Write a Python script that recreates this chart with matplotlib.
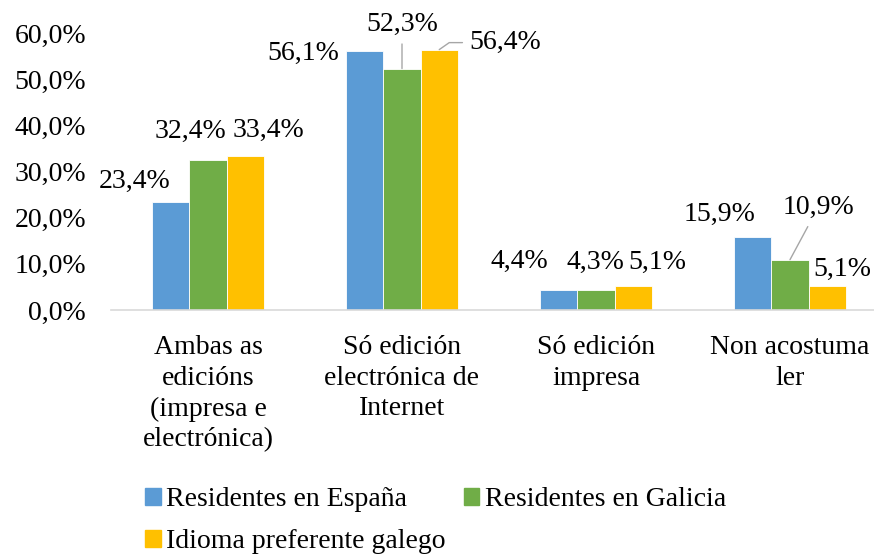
import matplotlib.pyplot as plt
import numpy as np
from matplotlib.patches import Patch
from matplotlib.ticker import FuncFormatter

plt.rcParams["font.family"] = ["Liberation Serif", "DejaVu Serif"]

categories = [
    "Ambas as\nedicións\n(impresa e\nelectrónica)",
    "Só edición\nelectrónica de\nInternet",
    "Só edición\nimpresa",
    "Non acostuma\nler",
]
series_names = ["Residentes en España", "Residentes en Galicia", "Idioma preferente galego"]
espana = [23.4, 56.1, 4.4, 15.9]
galicia = [32.4, 52.3, 4.3, 10.9]
galego = [33.4, 56.4, 5.1, 5.1]
yticks = [0, 10, 20, 30, 40, 50, 60]

colors = ["#5B9BD5", "#70AD47", "#FFC000"]
FS = 20

# label offsets in pixels from the top centre of each bar (series x category)
label_offsets = [
    [(-36, 21), (-62, -2), (-39, 28), (-33, 22)],
    [(-18, 29), (0, 44), (-1, 28), (28, 52)],
    [(23, 25), (66, 7), (24, 24), (15, 17)],
]
leader_styles = {
    (1, 1): "arc3",
    (2, 1): "angle,angleA=0,angleB=35,rad=0",
    (1, 3): "arc3",
}

fig = plt.figure(figsize=(8.74, 5.56), dpi=100)
ax = fig.add_axes([111 / 874, (556 - 310) / 556, 776 / 874, 277 / 556])

x = np.arange(len(categories))
w = 0.192
all_series = [espana, galicia, galego]
for i, vals in enumerate(all_series):
    bars = ax.bar(x + (i - 1) * w, vals, w, color=colors[i], edgecolor="white",
                  linewidth=0.6, label=series_names[i], zorder=2)
    for j, b in enumerate(bars):
        dx, dy = label_offsets[i][j]
        txt = f"{vals[j]:.1f}%".replace(".", ",")
        kw = {}
        if (i, j) in leader_styles:
            kw["arrowprops"] = dict(arrowstyle="-", color="#A6A6A6", lw=1,
                                    shrinkA=3, shrinkB=0,
                                    connectionstyle=leader_styles[(i, j)])
        ax.annotate(txt, (b.get_x() + b.get_width() / 2, b.get_height()),
                    xytext=(dx, dy), textcoords="offset pixels",
                    ha="center", va="center", fontsize=FS, annotation_clip=False, **kw)

ax.set_xlim(-0.5, len(categories) - 0.5)
ax.set_ylim(0, 60)
ax.set_yticks(yticks)
ax.yaxis.set_major_formatter(FuncFormatter(lambda v, p: f"{v:.1f}%".replace(".", ",")))
ax.set_xticks(x)
ax.set_xticklabels(categories, fontsize=FS, linespacing=1.3, va="top")
ax.tick_params(axis="y", length=0, labelsize=FS, pad=18)
ax.tick_params(axis="x", length=0, pad=18)
for s in ["top", "right", "left"]:
    ax.spines[s].set_visible(False)
ax.spines["bottom"].set_color("#D9D9D9")
ax.spines["bottom"].set_linewidth(1.2)

handles = [Patch(color=c) for c in colors]
order = [0, 2, 1]
fig.legend([handles[k] for k in order], [series_names[k] for k in order],
           ncol=2, loc="upper left", bbox_to_anchor=(126 / 874, 1 - 468 / 556),
           frameon=False, fontsize=FS, handlelength=0.55, handleheight=0.55,
           handletextpad=0.2, columnspacing=0.65, labelspacing=0.6,
           borderpad=0.2)

fig.savefig("out.png", dpi=100)
